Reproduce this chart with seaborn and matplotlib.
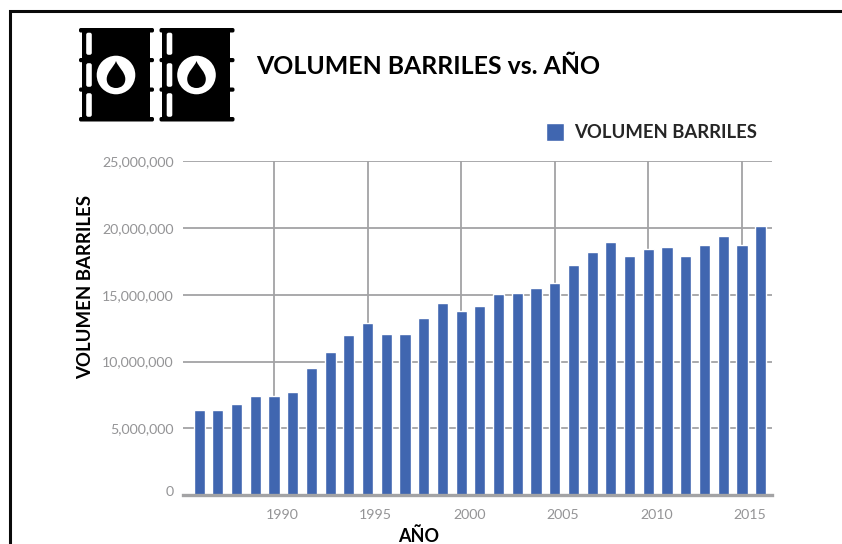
import matplotlib
matplotlib.use("Agg")
import matplotlib.pyplot as plt
import numpy as np
import pandas as pd
import seaborn as sns
from matplotlib.patches import Circle, FancyBboxPatch, PathPatch, Rectangle
from matplotlib.path import Path
from matplotlib.transforms import ScaledTranslation

years = list(range(1986, 2017))
barrels = [
    6.33, 6.33, 6.85, 7.43, 7.43, 7.73, 9.5, 10.7, 12.0, 12.85, 12.03,
    12.03, 13.29, 14.41, 13.81, 14.19, 15.09, 15.17, 15.54, 15.92, 17.27,
    18.24, 18.99, 17.94, 18.47, 18.62, 17.94, 18.77, 19.44, 18.77, 20.12,
]
barrels = [v * 1e6 for v in barrels]
year_ticks = [1990, 1995, 2000, 2005, 2010, 2015]
volume_ticks = [0, 5000000, 10000000, 15000000, 20000000, 25000000]

W, H = 842, 544
BLUE = "#4066b0"
GRID = "#a3a3a5"
TICK_TXT = "#949496"
FONT = "Lato"


def draw_barrel(ov, dx):
    # body, rims and white slots, in picture pixels
    ov.add_patch(Rectangle((81.5 + dx, 29), 68, 92, color="black", lw=0))
    for y in (28, 117):
        ov.add_patch(FancyBboxPatch((79.5 + dx, y + 0.5), 74, 3.5, boxstyle="round,pad=0.5,rounding_size=1.8", color="black", lw=0))
    for y in (58, 87.5):
        ov.add_patch(FancyBboxPatch((79.5 + dx, y + 0.5), 74, 3.2, boxstyle="round,pad=0.5,rounding_size=1.8", color="black", lw=0))
    for y0, y1 in ((32.5, 55), (63, 87), (93, 117)):
        ov.add_patch(FancyBboxPatch((87 + dx, y0 + 1), 4, y1 - y0 - 2, boxstyle="round,pad=0.8,rounding_size=2", color="white", lw=0))
    cx = 116 + dx
    ov.add_patch(Circle((cx, 75), 19.3, color="white", lw=0))
    drop = Path(
        [(cx, 61), (cx - 2, 67), (cx - 9.3, 72), (cx - 9.3, 79), (cx - 9.3, 85), (cx - 5, 88),
         (cx, 88), (cx + 5, 88), (cx + 9.3, 85), (cx + 9.3, 79), (cx + 9.3, 72), (cx + 2, 67), (cx, 61)],
        [Path.MOVETO] + [Path.CURVE4] * 12,
    )
    ov.add_patch(PathPatch(drop, color="black", lw=0))


sns.set_theme(style="white")
plt.rcParams["font.family"] = [FONT, "DejaVu Sans"]

fig = plt.figure(figsize=(W / 100, H / 100), dpi=100, facecolor="white")
ax = fig.add_axes([183.4 / W, (H - 494.9) / H, 589 / W, 333.5 / H])

df = pd.DataFrame({"year": years, "barrels": barrels})
sns.barplot(
    data=df, x="year", y="barrels", native_scale=True, width=0.6, color=BLUE,
    saturation=1, label="VOLUMEN BARRILES", ax=ax, zorder=3,
)
handles, labels = ax.get_legend_handles_labels()
ax.get_legend().remove()

ax.set_xlim(1985.16, 2016.63)
ax.set_ylim(0, 25000000)
ax.set_xticks(year_ticks)
ax.set_yticks(volume_ticks)
ax.set_yticklabels([f"{v:,}" for v in volume_ticks])
ax.grid(True, color=GRID, lw=1.3)
ax.set_axisbelow(True)
for side in ("left", "right", "top"):
    ax.spines[side].set_visible(False)
ax.spines["bottom"].set_color(GRID)
ax.spines["bottom"].set_linewidth(2.4)
ax.spines["bottom"].set_zorder(4)
ax.tick_params(axis="both", length=0, labelsize=10.2, labelcolor=TICK_TXT)
ax.tick_params(axis="y", pad=7)
ax.tick_params(axis="x", pad=10)
for lab in ax.get_xticklabels():
    lab.set_transform(lab.get_transform() + ScaledTranslation(8 / 100, 0, fig.dpi_scale_trans))
zero_lab = ax.get_yticklabels()[0]
zero_lab.set_transform(zero_lab.get_transform() + ScaledTranslation(0, 4 / 100, fig.dpi_scale_trans))

ax.set_xlabel("AÑO", fontsize=13, fontweight="bold", color="black")
ax.xaxis.set_label_coords((419 - 184) / 589, -(536 - 495) / 333)
ax.xaxis.label.set_va("center")
ax.set_ylabel("VOLUMEN BARRILES", fontsize=13.4, fontweight="bold", color="black")
ax.yaxis.set_label_coords((86 - 184) / 589, (495 - 287) / 333)
ax.yaxis.label.set_va("center")

# pixel overlay for frame, icon, title
ov = fig.add_axes([0, 0, 1, 1], facecolor="none")
ov.set_xlim(0, W)
ov.set_ylim(H, 0)
ov.axis("off")
ov.plot([9.5, 9.5, W], [H, 10.5, 10.5], color="#0a0a0a", lw=2.2, solid_joinstyle="miter")
draw_barrel(ov, 0)
draw_barrel(ov, 80.5)
ov.text(256, 67, "VOLUMEN BARRILES vs. AÑO", fontsize=17.9, fontweight="bold", color="black", va="center", ha="left")

leg = ov.legend(
    handles, labels, loc="center left", bbox_to_anchor=(545.5, 132), bbox_transform=ov.transData,
    frameon=False, borderpad=0, borderaxespad=0, handlelength=0.975, handleheight=1.12,
    handletextpad=0.6, prop={"family": FONT, "size": 13.3, "weight": "bold"},
)

fig.savefig("out.png", dpi=100)
